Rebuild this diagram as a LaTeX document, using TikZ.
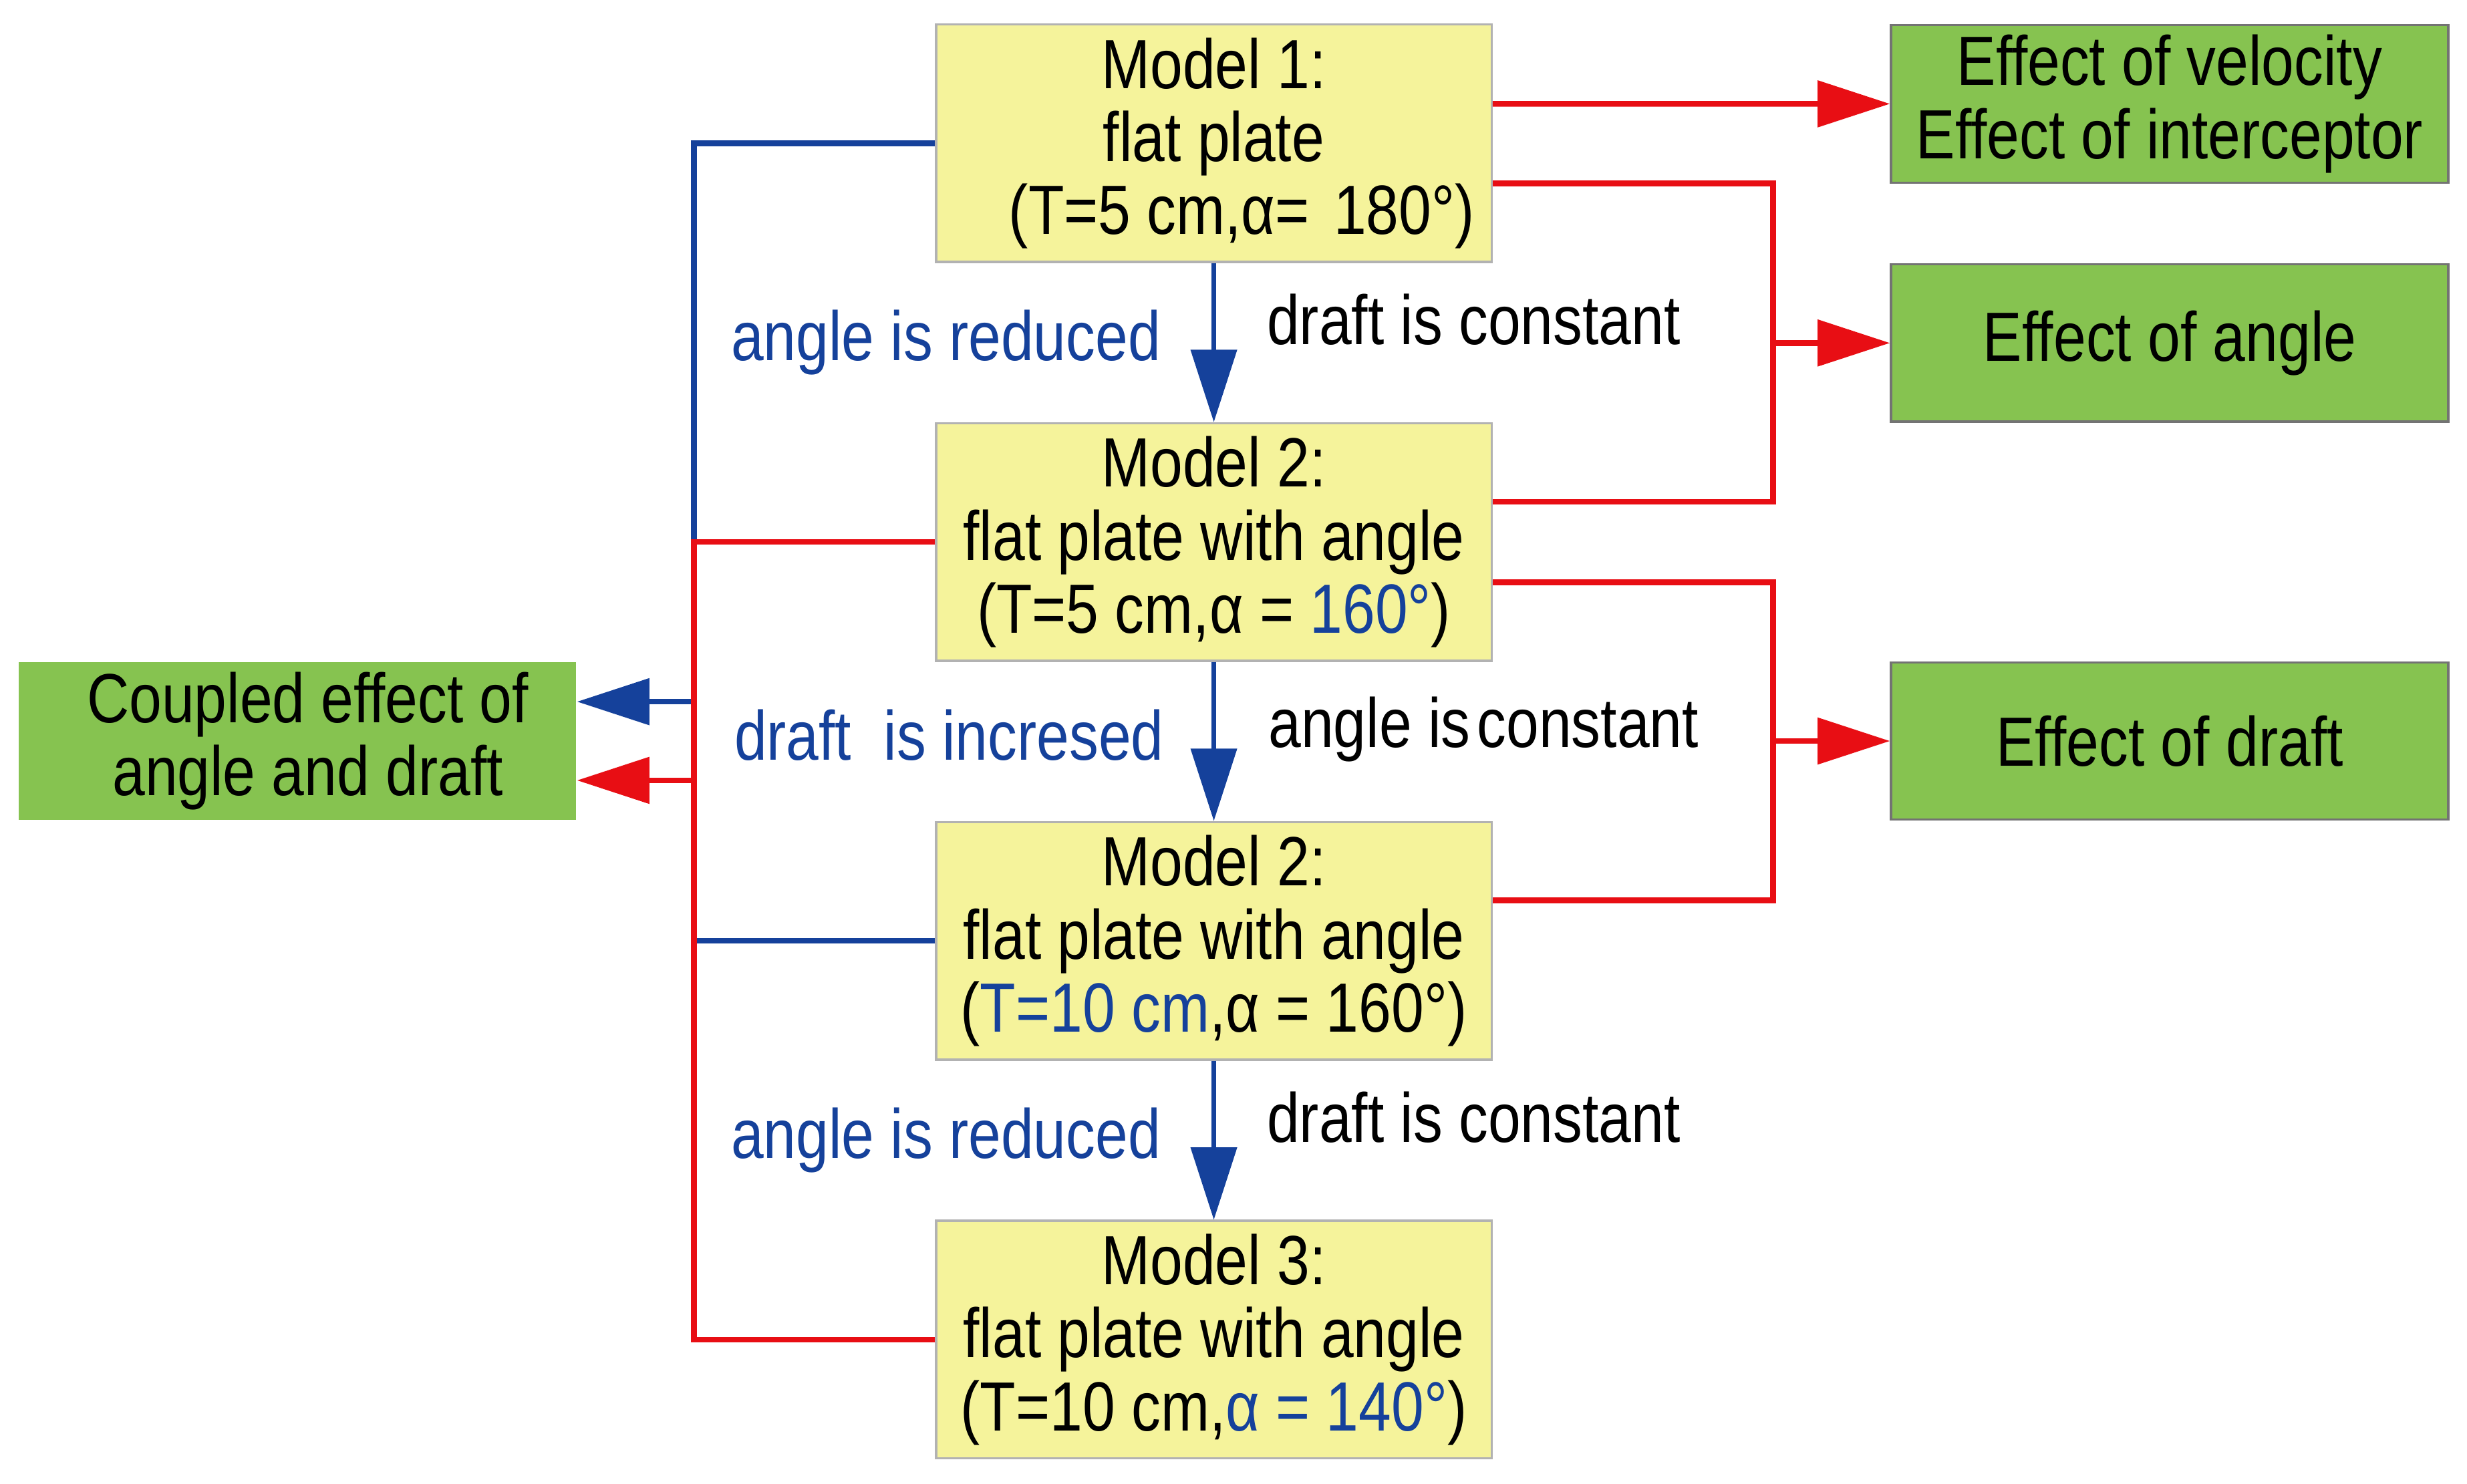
\documentclass[tikz,border=0pt]{standalone}
\usepackage{fontspec}
\setmainfont{Liberation Sans}[FakeStretch=0.84]
\usetikzlibrary{arrows.meta}
\definecolor{modellgelb}{RGB}{245,243,155}
\definecolor{effektgruen}{RGB}{134,195,80}
\definecolor{pfeilblau}{RGB}{21,65,155}
\definecolor{pfeilrot}{RGB}{232,14,20}

\begin{document}
\begin{tikzpicture}[
		x=0.025cm, y=-0.025cm,
		every node/.style={font=\fontsize{31.5pt}{33pt}\selectfont, inner sep=0pt},
		modell/.style={draw=gray!60, line width=1pt, fill=modellgelb, minimum width=8.825cm, minimum height=3.775cm, align=center},
		effekt/.style={draw=black!55, line width=1pt, fill=effektgruen, minimum width=8.85cm, minimum height=2.5cm, align=center},
		rot/.style={draw=pfeilrot, line width=2.6pt},
		blau/.style={draw=pfeilblau, line width=2.6pt},
		spitze/.style={-{Triangle[length=1.15cm, width=0.725cm]}},
		schritt/.style={blau, line width=2pt, spitze}
		]
		\useasboundingbox (0,0) rectangle (1568,943);

		% Modelle
		\node[modell] (m1) at (771.5,91) {Model 1:\\flat plate\\\hspace*{0.8em}(T=5 cm,α=\hspace{0.35em}180°)};
		\node[modell] (m2a) at (771.5,344.5) {Model 2:\\flat plate with angle\\(T=5 cm,α = \textcolor{pfeilblau}{160°})};
		\node[modell] (m2b) at (771.5,598) {Model 2:\\flat plate with angle\\(\textcolor{pfeilblau}{T=10 cm},α = 160°)};
		\node[modell] (m3) at (771.5,851.5) {Model 3:\\flat plate with angle\\(T=10 cm,\textcolor{pfeilblau}{α = 140°})};

		% Effekte
		\node[effekt] (vel) at (1379,66) {Effect of velocity\\Effect of interceptor};
		\node[effekt] (ang) at (1379,218) {Effect of angle};
		\node[effekt] (dra) at (1379,471) {Effect of draft};
		\node[effekt, draw=none] (cpl) at (189,471) {\hspace*{0.3em}Coupled effect of\\\hspace*{0.3em}angle and draft};

		\coordinate (rbus) at (1127,0);
		\coordinate (lbus) at (441,0);

		% rechte Seite
		\draw[rot, spitze] ([yshift=0.625cm]m1.east) -- (vel.west);
		\draw[rot] ([yshift=-0.64cm]m1.east) -| ([yshift=0.64cm]m2a.east -| rbus) -- ([yshift=0.64cm]m2a.east);
		\draw[rot, spitze] (rbus |- ang.west) -- (ang.west);
		\draw[rot] ([yshift=-0.64cm]m2a.east) -| ([yshift=0.64cm]m2b.east -| rbus) -- ([yshift=0.64cm]m2b.east);
		\draw[rot, spitze] (rbus |- dra.west) -- (dra.west);

		% linke Seite
		\draw[blau] (m1.west) -| (lbus |- m2b.west) -- (m2b.west);
		\draw[blau, spitze] ([yshift=0.625cm]cpl.east -| lbus) -- ([yshift=0.625cm]cpl.east);
		\draw[rot] (m2a.west) -| (lbus |- m3.west) -- (m3.west);
		\draw[rot, spitze] ([yshift=-0.625cm]cpl.east -| lbus) -- ([yshift=-0.625cm]cpl.east);

		\draw[schritt] (m1) -- (m2a);
		\draw[schritt] (m2a) -- (m2b);
		\draw[schritt] (m2b) -- (m3);

		% Beschriftung
		\node[anchor=base east, text=pfeilblau] (l1) at (738,229) {angle is reduced};
		\node[anchor=base west] (r1) at (805,219) {draft is constant};
		\node[anchor=base east, text=pfeilblau] (l2) at (740,483) {draft\ \ is incresed};
		\node[anchor=base west] (r2) at (806,475) {angle is\hspace{0.1em}constant};
		\node[anchor=base east, text=pfeilblau] (l3) at (738,736) {angle is reduced};
		\node[anchor=base west] (r3) at (805,726) {draft is constant};

	\end{tikzpicture}
\end{document}
